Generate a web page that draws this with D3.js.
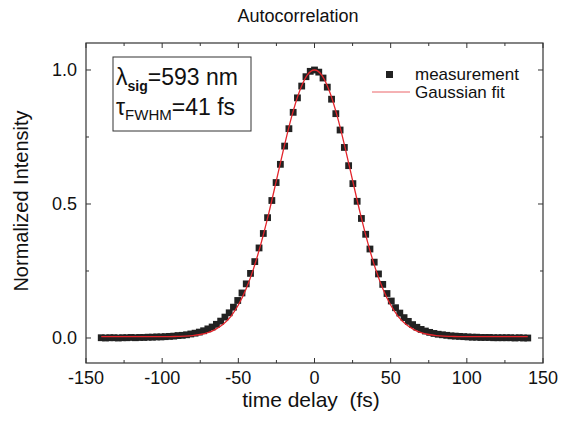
<!DOCTYPE html>
<html>
<head>
<meta charset="utf-8">
<script src="https://cdn.jsdelivr.net/npm/d3@7"></script>
<style>
  body { margin: 0; background: #fff; }
  text { font-family: "Liberation Sans", Arial, sans-serif; fill: #111; }
</style>
</head>
<body>
<svg id="chart" width="563" height="421"></svg>
<script>
// retardos (fs) de cada punto medido
const delays = [
  -140, -137.2, -134.4, -131.6, -128.8, -126, -123.2, -120.4, -117.6, -114.8,
  -112, -109.2, -106.4, -103.6, -100.8, -98, -95.2, -92.4, -89.6, -86.8,
  -84, -81.2, -78.4, -75.6, -72.8, -70, -67.2, -64.4, -61.6, -58.8,
  -56, -53.2, -50.4, -47.6, -44.8, -42, -39.2, -36.4, -33.6, -30.8,
  -28, -25.2, -22.4, -19.6, -16.8, -14, -11.2, -8.4, -5.6, -2.8,
  0,
  2.8, 5.6, 8.4, 11.2, 14, 16.8, 19.6, 22.4, 25.2, 28,
  30.8, 33.6, 36.4, 39.2, 42, 44.8, 47.6, 50.4, 53.2, 56,
  58.8, 61.6, 64.4, 67.2, 70, 72.8, 75.6, 78.4, 81.2, 84,
  86.8, 89.6, 92.4, 95.2, 98, 100.8, 103.6, 106.4, 109.2, 112,
  114.8, 117.6, 120.4, 123.2, 126, 128.8, 131.6, 134.4, 137.2, 140
];

// intensidad medida (normalizada)
const measurement = [
  0.001, 0.000, 0.001, 0.001, 0.000, 0.001, 0.001, 0.002, 0.001, 0.002,
  0.002, 0.003, 0.003, 0.004, 0.004, 0.005, 0.006, 0.007, 0.009, 0.010,
  0.012, 0.015, 0.018, 0.022, 0.027, 0.034, 0.041, 0.051, 0.063, 0.078,
  0.094, 0.115, 0.140, 0.168, 0.202, 0.241, 0.285, 0.336, 0.390, 0.449,
  0.513, 0.580, 0.648, 0.716, 0.781, 0.842, 0.896, 0.940, 0.975, 0.995,
  1.000,
  0.992, 0.970, 0.936, 0.891, 0.837, 0.776, 0.711, 0.643, 0.576, 0.510,
  0.446, 0.387, 0.332, 0.283, 0.239, 0.200, 0.166, 0.138, 0.113, 0.093,
  0.076, 0.062, 0.050, 0.040, 0.032, 0.026, 0.021, 0.017, 0.014, 0.012,
  0.010, 0.008, 0.007, 0.006, 0.005, 0.004, 0.003, 0.003, 0.002, 0.002,
  0.002, 0.001, 0.001, 0.001, 0.001, 0.001, 0.000, 0.001, 0.000, 0.000
];

// curva del ajuste gaussiano
const fitDelays = [
  -140, -130, -120, -110, -100, -95, -90, -85, -80, -75, -70, -65, -60, -55, -50,
  -45, -40, -35, -30, -25, -20, -15, -10, -5, 0,
  5, 10, 15, 20, 25, 30, 35, 40, 45, 50, 55, 60, 65, 70, 75, 80, 85, 90, 95, 100,
  110, 120, 130, 140
];
const fitValues = [
  0.005, 0.005, 0.005, 0.005, 0.005, 0.005, 0.006, 0.007, 0.009, 0.013, 0.020, 0.032, 0.051, 0.080, 0.123,
  0.182, 0.259, 0.355, 0.466, 0.588, 0.712, 0.826, 0.918, 0.979, 1.000,
  0.979, 0.918, 0.826, 0.712, 0.588, 0.466, 0.355, 0.259, 0.182, 0.123, 0.080, 0.051, 0.032, 0.020, 0.013, 0.009, 0.007, 0.006, 0.005, 0.005,
  0.005, 0.005, 0.005, 0.005
];

const xTicks = [-150, -100, -50, 0, 50, 100, 150];
const xMinor = [-125, -75, -25, 25, 75, 125];
const yTicks = [0, 0.5, 1.0];
const yMinor = [0.25, 0.75];

const svg = d3.select("#chart");
const L = 86, R = 543, T = 43, B = 363;
const frameColor = "#333";
const fitColor = "#e3242b";

const x = d3.scaleLinear().domain([-150, 150]).range([L, R]);
const y = d3.scaleLinear().domain([-0.0933, 1.1007]).range([B, T]);

// Marco
svg.append("rect")
  .attr("x", L).attr("y", T).attr("width", R - L).attr("height", B - T)
  .attr("fill", "none").attr("stroke", frameColor).attr("stroke-width", 1.2);

// Ticks hacia dentro (abajo, arriba, izquierda, derecha)
function tickLines(vals, len) {
  vals.forEach(v => {
    svg.append("line").attr("x1", x(v)).attr("x2", x(v)).attr("y1", B).attr("y2", B - len)
      .attr("stroke", frameColor);
    svg.append("line").attr("x1", x(v)).attr("x2", x(v)).attr("y1", T).attr("y2", T + len)
      .attr("stroke", frameColor);
  });
}
tickLines(xTicks, 5);
tickLines(xMinor, 3);

function yTickLines(vals, len) {
  vals.forEach(v => {
    svg.append("line").attr("x1", L).attr("x2", L + len).attr("y1", y(v)).attr("y2", y(v))
      .attr("stroke", frameColor);
    svg.append("line").attr("x1", R).attr("x2", R - len).attr("y1", y(v)).attr("y2", y(v))
      .attr("stroke", frameColor);
  });
}
yTickLines(yTicks, 5);
yTickLines(yMinor, 3);

// Etiquetas de ticks
svg.selectAll(".xl").data(xTicks).enter().append("text")
  .attr("x", d => x(d)).attr("y", 384)
  .attr("text-anchor", "middle").attr("font-size", 18)
  .text(d => d);

svg.selectAll(".yl").data(yTicks).enter().append("text")
  .attr("x", 77).attr("y", d => y(d) + 6)
  .attr("text-anchor", "end").attr("font-size", 18)
  .text(d => d3.format(".1f")(d));

// Títulos
svg.append("text").attr("x", 298).attr("y", 22).attr("text-anchor", "middle")
  .attr("font-size", 18).text("Autocorrelation");
svg.append("text").attr("x", 311).attr("y", 407).attr("text-anchor", "middle")
  .attr("font-size", 21).attr("xml:space", "preserve").text("time delay  (fs)");
svg.append("text").attr("transform", "translate(28,201) rotate(-90)")
  .attr("text-anchor", "middle").attr("font-size", 20).text("Normalized Intensity");

// Medidas
const pts = delays.map((d, i) => ({ t: d, v: measurement[i] }));
svg.append("g").selectAll("rect").data(pts).enter().append("rect")
  .attr("x", d => x(d.t) - 3.4).attr("y", d => y(d.v) - 3.4)
  .attr("width", 6.8).attr("height", 6.8)
  .attr("fill", "#222");

// Ajuste gaussiano
const fit = fitDelays.map((d, i) => ({ t: d, v: fitValues[i] }));
svg.append("path").datum(fit)
  .attr("d", d3.line().x(d => x(d.t)).y(d => y(d.v)).curve(d3.curveMonotoneX))
  .attr("fill", "none").attr("stroke", fitColor).attr("stroke-width", 1.3);

// Leyenda
svg.append("rect").attr("x", 386).attr("y", 71).attr("width", 7).attr("height", 7).attr("fill", "#222");
svg.append("text").attr("x", 415).attr("y", 80).attr("font-size", 17).text("measurement");
svg.append("line").attr("x1", 372).attr("x2", 410).attr("y1", 92).attr("y2", 92)
  .attr("stroke", fitColor).attr("stroke-width", 1).attr("opacity", 0.7);
svg.append("text").attr("x", 415).attr("y", 98).attr("font-size", 17).text("Gaussian fit");

// Recuadro con parámetros
svg.append("rect").attr("x", 113).attr("y", 57).attr("width", 138).attr("height", 74)
  .attr("fill", "#fff").attr("stroke", frameColor).attr("stroke-width", 1);
const t1 = svg.append("text").attr("x", 116).attr("y", 85).attr("font-size", 23);
t1.append("tspan").text("λ");
t1.append("tspan").attr("font-size", 14).attr("font-weight", "bold").attr("dy", 6).text("sig");
t1.append("tspan").attr("dy", -6).text("=593 nm");
const t2 = svg.append("text").attr("x", 116).attr("y", 115).attr("font-size", 23);
t2.append("tspan").text("τ");
t2.append("tspan").attr("font-size", 15).attr("dy", 5).text("FWHM");
t2.append("tspan").attr("dy", -5).text("=41 fs");
</script>
</body>
</html>
